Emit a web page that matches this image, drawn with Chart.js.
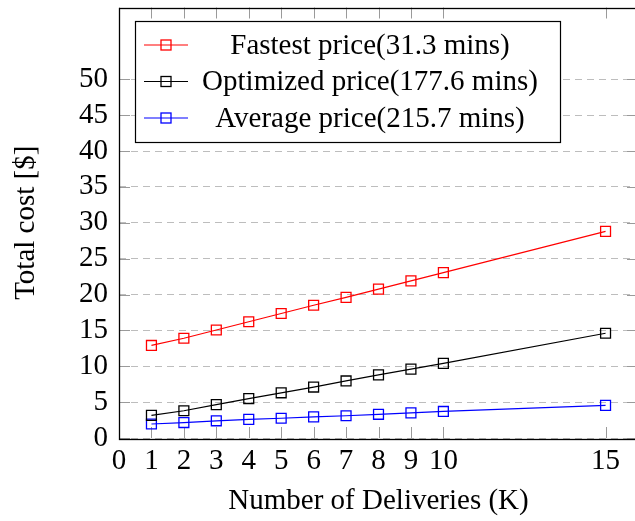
<!DOCTYPE html>
<html><head><meta charset="utf-8">
<script src="https://cdn.jsdelivr.net/npm/chart.js@4"></script>
<style>html,body{margin:0;padding:0;background:#fff}#wrap{width:635px;height:521px;position:relative}</style>
</head><body><div id="wrap"><canvas id="c" width="635" height="521"></canvas></div>
<script>
const deliveries = [1, 2, 3, 4, 5, 6, 7, 8, 9, 10, 15];
const fastestPrice = [12.9, 13.9, 15.05, 16.2, 17.35, 18.5, 19.6, 20.75, 21.9, 23.05, 28.8];
const optimizedPrice = [3.15, 3.8, 4.65, 5.5, 6.3, 7.1, 7.95, 8.8, 9.6, 10.4, 14.6];
const averagePrice = [1.95, 2.15, 2.4, 2.6, 2.75, 2.95, 3.1, 3.3, 3.5, 3.7, 4.55];
const seriesLabels = ['Fastest price(31.3 mins)', 'Optimized price(177.6 mins)', 'Average price(215.7 mins)'];
const seriesColors = ['#ff0000', '#000000', '#0000ff'];
const xTickValues = [0, 1, 2, 3, 4, 5, 6, 7, 8, 9, 10, 15];
const yTickValues = [0, 5, 10, 15, 20, 25, 30, 35, 40, 45, 50];
const xTitle = 'Number of Deliveries (K)';
const yTitle = 'Total cost [$]';

const FONT = "'Liberation Serif', 'Times New Roman', serif";
Chart.defaults.font.family = FONT;
Chart.defaults.font.size = 29;
Chart.defaults.color = '#000';

function toPoints(vals){ return deliveries.map((d, i) => ({x: d, y: vals[i]})); }
const seriesValues = [fastestPrice, optimizedPrice, averagePrice];

const datasets = seriesValues.map((vals, i) => ({
  label: seriesLabels[i],
  data: toPoints(vals),
  showLine: true,
  borderColor: seriesColors[i],
  backgroundColor: 'rgba(0,0,0,0)',
  borderWidth: 1.2,
  pointStyle: 'rect',
  pointRadius: 7,
  pointBorderWidth: 1.3,
  pointBorderColor: seriesColors[i],
  pointBackgroundColor: 'rgba(0,0,0,0)',
  fill: false,
  tension: 0
}));

const frameTicks = {
  id: 'frameTicks',
  afterLayout(chart){
    // the plot frame runs slightly past the right edge of the picture
    const ext = 3;
    const a = chart.chartArea;
    a.right += ext; a.width = a.right - a.left;
    const x = chart.scales.x;
    x.right += ext; x.width += ext;
    x.configure();
  },
  beforeDatasetsDraw(chart){
    const {ctx, chartArea: a, scales: {x, y}} = chart;
    const tl = 11;
    ctx.save();
    ctx.strokeStyle = '#9a9a9a';
    ctx.lineWidth = 1;
    ctx.beginPath();
    xTickValues.forEach(v => {
      const px = Math.round(x.getPixelForValue(v)) + 0.5;
      ctx.moveTo(px, a.bottom); ctx.lineTo(px, a.bottom - tl);
      ctx.moveTo(px, a.top); ctx.lineTo(px, a.top + tl);
    });
    yTickValues.forEach(v => {
      const py = Math.round(y.getPixelForValue(v)) + 0.5;
      ctx.moveTo(a.left, py); ctx.lineTo(a.left + tl, py);
      ctx.moveTo(a.right, py); ctx.lineTo(a.right - tl, py);
    });
    ctx.stroke();
    ctx.restore();
  },
  afterDatasetsDraw(chart){
    const {ctx, chartArea: a} = chart;
    ctx.save();
    ctx.strokeStyle = '#000';
    ctx.lineWidth = 1.3;
    ctx.strokeRect(Math.round(a.left) + 0.5, Math.round(a.top) + 0.5, Math.round(a.right - a.left), Math.round(a.bottom - a.top));
    // legend
    const bx = 135.5, by = 21.5, bw = 425, bh = 121;
    ctx.fillStyle = '#fff';
    ctx.fillRect(bx, by, bw, bh);
    ctx.lineWidth = 1.2;
    ctx.strokeRect(bx, by, bw, bh);
    const rows = [45, 81.5, 118];
    ctx.font = '29px ' + FONT;
    ctx.textAlign = 'center';
    ctx.textBaseline = 'middle';
    chart.data.datasets.forEach((ds, i) => {
      const ry = rows[i];
      ctx.strokeStyle = ds.borderColor;
      ctx.lineWidth = 1.2;
      ctx.beginPath(); ctx.moveTo(144, ry); ctx.lineTo(188, ry); ctx.stroke();
      ctx.lineWidth = 1.3;
      ctx.strokeRect(161, ry - 5, 10, 10);
      ctx.fillStyle = '#000';
      ctx.fillText(ds.label, 370, ry + 1);
    });
    ctx.restore();
  }
};

new Chart(document.getElementById('c'), {
  type: 'scatter',
  data: { datasets },
  options: {
    responsive: false,
    animation: false,
    devicePixelRatio: 1,
    layout: { autoPadding: false, padding: { left: 0, top: 7.5, right: 0, bottom: 0 } },
    plugins: { legend: { display: false }, tooltip: { enabled: false } },
    scales: {
      x: {
        type: 'linear', min: 0, max: 16,
        afterBuildTicks(scale){ scale.ticks = xTickValues.map(v => ({value: v})); },
        afterFit(scale){ scale.height = 83; scale.paddingLeft = 0; scale.paddingRight = 0; },
        grid: { display: false, drawTicks: false },
        border: { display: false },
        ticks: { autoSkip: false, maxRotation: 0, padding: 6, callback: v => String(v) },
        title: { display: true, text: xTitle, padding: { top: 0, bottom: 2 } }
      },
      y: {
        type: 'linear', min: 0, max: 60,
        afterBuildTicks(scale){ scale.ticks = yTickValues.map(v => ({value: v})); },
        afterFit(scale){ scale.width = 119; scale.paddingTop = 0; scale.paddingBottom = 0; },
        grid: { display: true, drawTicks: false, color: '#bdbdbd', lineWidth: 1 },
        border: { display: false, dash: [7, 5] },
        ticks: { padding: 11, callback: v => String(v) },
        title: { display: true, text: yTitle, padding: { top: 9, bottom: 0 } }
      }
    }
  },
  plugins: [frameTicks]
});
</script></body></html>
